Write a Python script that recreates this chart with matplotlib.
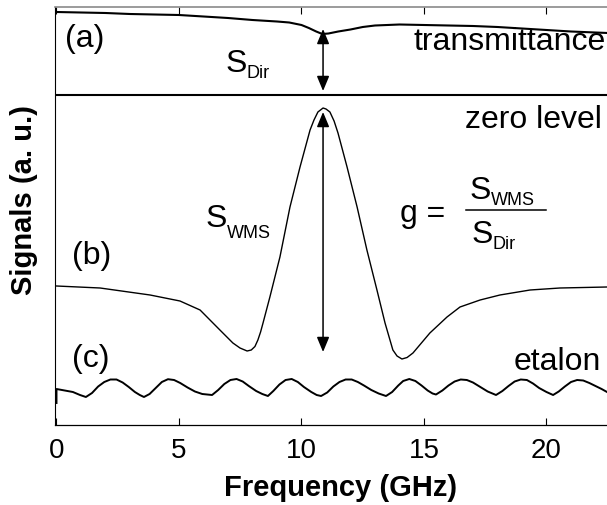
import matplotlib
matplotlib.use("Agg")
import matplotlib.pyplot as plt
from matplotlib.lines import Line2D

plt.rcParams['font.family'] = ['Liberation Sans', 'DejaVu Sans']

# Frequency axis (GHz) and traces in arbitrary units
trans_f = [0.0, 1.0, 2.0, 3.0, 4.0, 5.0, 6.0, 7.0, 8.0, 9.0, 9.5, 10.0, 10.3, 10.6,
           10.85, 11.1, 11.5, 12.0, 12.5, 13.0, 14.0, 15.0, 16.0, 17.0, 18.0, 19.0,
           20.0, 21.0, 22.0, 22.5]
trans_y = [41.30, 41.25, 41.20, 41.10, 41.05, 41.00, 40.85, 40.70, 40.50, 40.35, 40.25,
           40.00, 39.70, 39.35, 39.10, 39.15, 39.35, 39.55, 39.80, 39.95, 40.05, 40.00,
           39.95, 39.90, 39.80, 39.65, 39.50, 39.35, 39.25, 39.20]

zero_level = 33.05

wms_f = [0.00, 1.78, 3.82, 5.04, 5.86, 6.67, 7.20, 7.49, 7.78, 7.95, 8.10, 8.22, 8.33,
         8.43, 8.71, 9.12, 9.53, 9.94, 10.35, 10.51, 10.67, 10.88, 11.00, 11.16, 11.33,
         11.49, 11.86, 12.27, 12.67, 13.08, 13.41, 13.73, 13.90, 14.10, 14.31, 14.55,
         15.24, 15.94, 16.47, 17.29, 18.10, 19.33, 20.55, 22.47]
wms_y = [13.90, 13.70, 13.00, 12.40, 11.50, 9.50, 8.20, 7.70, 7.40, 7.50, 7.85, 8.50,
         9.30, 10.20, 12.80, 16.80, 21.80, 25.80, 29.50, 30.50, 31.30, 31.70, 31.60,
         31.30, 30.40, 29.20, 25.80, 21.80, 17.50, 13.50, 10.20, 7.50, 6.90, 6.60, 6.75,
         7.20, 9.20, 10.80, 11.80, 12.50, 13.00, 13.50, 13.70, 13.80]

etalon_f = [0.00, 0.00, 0.67, 0.96, 1.20, 1.45, 1.70, 1.95, 2.20, 2.45, 2.70, 2.95, 3.20,
            3.40, 3.57, 3.80, 4.05, 4.30, 4.55, 4.80, 5.05, 5.35, 5.65, 5.95, 6.35, 6.60,
            6.85, 7.10, 7.35, 7.60, 7.85, 8.15, 8.40, 8.63, 8.85, 9.10, 9.35, 9.60, 9.85,
            10.10, 10.40, 10.62, 10.80, 11.05, 11.30, 11.55, 11.80, 12.05, 12.30, 12.55,
            12.85, 13.15, 13.45, 13.70, 13.95, 14.15, 14.40, 14.65, 14.90, 15.15, 15.35,
            15.49, 15.75, 16.00, 16.25, 16.50, 16.75, 17.00, 17.30, 17.60, 17.94, 18.20,
            18.45, 18.70, 18.95, 19.20, 19.45, 19.70, 20.00, 20.27, 20.50, 20.75, 21.00,
            21.25, 21.50, 21.75, 22.00, 22.25, 22.47]
etalon_y = [2.20, 3.60, 3.30, 3.00, 2.80, 3.20, 3.85, 4.30, 4.55, 4.55, 4.25, 3.80, 3.30,
            3.00, 2.80, 3.10, 3.70, 4.30, 4.58, 4.50, 4.20, 3.75, 3.35, 3.10, 3.00, 3.50,
            4.10, 4.50, 4.60, 4.35, 3.90, 3.40, 3.10, 2.90, 3.40, 4.05, 4.50, 4.60, 4.30,
            3.80, 3.30, 3.00, 2.90, 3.25, 3.85, 4.30, 4.55, 4.55, 4.30, 3.95, 3.50, 3.15,
            2.90, 3.30, 3.95, 4.40, 4.60, 4.40, 3.95, 3.45, 3.15, 3.05, 3.45, 3.95, 4.35,
            4.55, 4.50, 4.25, 3.80, 3.35, 3.00, 3.40, 3.90, 4.35, 4.55, 4.50, 4.15, 3.70,
            3.30, 3.00, 3.35, 3.85, 4.30, 4.50, 4.45, 4.20, 3.90, 3.60, 3.30]

line_center = 10.88          # GHz, absorption line centre
s_dir_top = 39.6
s_wms_top = 31.3
s_wms_bottom = 7.3

xticks = [0, 5, 10, 15, 20]

W, H = 607, 505
fig = plt.figure(figsize=(W / 100, H / 100), dpi=100)
ax = fig.add_axes([55 / W, 80 / H, 552 / W, 418 / H])

ax.plot(trans_f, trans_y, color='black', lw=1.5)
ax.axhline(zero_level, color='black', lw=1.5)
ax.plot(wms_f, wms_y, color='black', lw=1.0)
ax.plot(etalon_f, etalon_y, color='black', lw=1.4)

ax.set_xlim(-0.061, 22.47)
ax.set_ylim(0, 41.8)

arrow_kw = dict(arrowstyle='<|-|>,head_length=0.6,head_width=0.25', mutation_scale=15,
                color='black', lw=1.1, shrinkA=0, shrinkB=0)
ax.annotate('', xy=(line_center, s_dir_top), xytext=(line_center, zero_level + 0.35),
            arrowprops=arrow_kw)
ax.annotate('', xy=(line_center, s_wms_top), xytext=(line_center, s_wms_bottom),
            arrowprops=arrow_kw)

ax.set_xticks(xticks)
ax.set_xticklabels([str(t) for t in xticks])
ax.set_yticks([])
ax.tick_params(axis='x', direction='in', length=5, width=0.8, top=True,
               labelsize=20, pad=9)
ax.spines['right'].set_visible(False)
ax.spines['top'].set_color('#8a8a8a')
ax.spines['top'].set_linewidth(1.2)
ax.spines['left'].set_linewidth(0.8)
ax.spines['bottom'].set_linewidth(0.9)


def px(x, y):
    return x / W, 1 - y / H


big = 23
small = 13

fig.text(*px(65, 47), '(a)', fontsize=big, ha='left', va='baseline')
fig.text(*px(606, 50), 'transmittance', fontsize=big, ha='right', va='baseline')
fig.text(*px(602, 128), 'zero level', fontsize=big, ha='right', va='baseline')
fig.text(*px(72, 264), '(b)', fontsize=big, ha='left', va='baseline')
fig.text(*px(72, 367), '(c)', fontsize=big, ha='left', va='baseline')
fig.text(*px(601, 370), 'etalon', fontsize=big, ha='right', va='baseline')

# S_Dir next to the upper arrow
fig.text(*px(226, 72), 'S', fontsize=big, ha='left', va='baseline')
fig.text(*px(247, 78), 'Dir', fontsize=small, ha='left', va='baseline')

# S_WMS next to the lower arrow
fig.text(*px(206, 227), 'S', fontsize=big, ha='left', va='baseline')
fig.text(*px(227, 238), 'WMS', fontsize=small, ha='left', va='baseline')

# g = S_WMS / S_Dir
fig.text(*px(400, 222), 'g =', fontsize=big, ha='left', va='baseline')
fig.text(*px(470, 199), 'S', fontsize=big, ha='left', va='baseline')
fig.text(*px(491, 205), 'WMS', fontsize=small, ha='left', va='baseline')
fig.add_artist(Line2D([466 / W, 546 / W], [1 - 210 / H, 1 - 210 / H],
                      color='black', lw=1.1, transform=fig.transFigure))
fig.text(*px(472, 243), 'S', fontsize=big, ha='left', va='baseline')
fig.text(*px(493, 249), 'Dir', fontsize=small, ha='left', va='baseline')

fig.text(*px(24, 200), 'Signals (a. u.)', fontsize=21, fontweight='bold',
         rotation=90, ha='center', va='center')
fig.text(*px(341, 488), 'Frequency (GHz)', fontsize=21, fontweight='bold',
         ha='center', va='center')

fig.savefig('out.png', dpi=100)
